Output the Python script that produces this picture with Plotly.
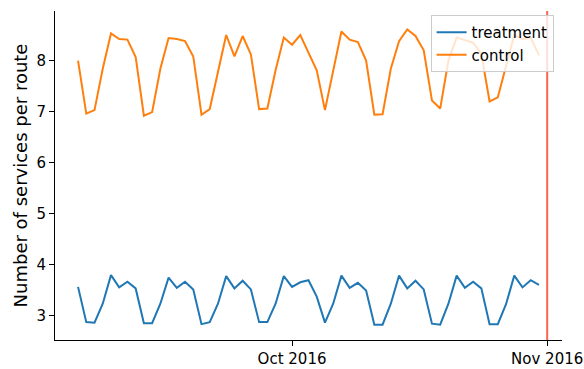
import pandas as pd
import plotly.graph_objects as go

# Daily observation dates
start_date = "2016-09-05"
n_days = 57
dates = pd.date_range(start_date, periods=n_days, freq="D")

# Mean number of services per route
treatment = [3.57, 2.88, 2.87, 3.24, 3.80, 3.56, 3.67, 3.54, 2.86, 2.86,
             3.24, 3.75, 3.55, 3.67, 3.52, 2.84, 2.88, 3.24, 3.78, 3.54,
             3.69, 3.52, 2.88, 2.88, 3.24, 3.78, 3.57, 3.66, 3.70, 3.38,
             2.87, 3.24, 3.79, 3.55, 3.65, 3.50, 2.83, 2.83, 3.24, 3.79,
             3.54, 3.69, 3.52, 2.85, 2.83, 3.24, 3.79, 3.55, 3.67, 3.54,
             2.84, 2.84, 3.23, 3.79, 3.56, 3.70, 3.61]
control = [8.00, 6.96, 7.03, 7.84, 8.53, 8.42, 8.41, 8.07, 6.92, 6.99,
           7.84, 8.44, 8.42, 8.38, 8.08, 6.94, 7.05, 7.81, 8.50, 8.08,
           8.48, 8.12, 7.05, 7.06, 7.81, 8.45, 8.31, 8.50, 8.14, 7.81,
           7.03, 7.81, 8.57, 8.41, 8.36, 8.00, 6.94, 6.95, 7.84, 8.38,
           8.61, 8.48, 8.20, 7.22, 7.06, 8.00, 8.45, 8.40, 8.35, 8.13,
           7.20, 7.28, 7.89, 8.50, 8.42, 8.45, 8.10]

# Intervention date and x tick labels
intervention = "2016-11-01"
tick_dates = ["2016-10-01", "2016-11-01"]
tick_labels = ["Oct 2016", "Nov 2016"]

font = dict(family="DejaVu Sans", size=15, color="#000000")

fig = go.Figure()
fig.add_trace(go.Scatter(x=dates, y=treatment, mode="lines", name="treatment",
                         line=dict(color="#1f77b4", width=2)))
fig.add_trace(go.Scatter(x=dates, y=control, mode="lines", name="control",
                         line=dict(color="#ff7f0e", width=2)))

fig.add_shape(type="line", xref="x", yref="paper",
              x0=intervention, x1=intervention, y0=0, y1=1,
              line=dict(color="#fa6450", width=2), layer="above")

fig.update_layout(
    width=584, height=369,
    margin=dict(l=55, r=22, t=11, b=29),
    paper_bgcolor="white", plot_bgcolor="white",
    font=font,
    showlegend=True,
    legend=dict(x=0.9834, y=0.988, xanchor="right", yanchor="top",
                bgcolor="rgba(255,255,255,0.8)", bordercolor="#cccccc",
                borderwidth=1, tracegroupgap=0,
                font=dict(family="DejaVu Sans", size=15)),
    xaxis=dict(range=["2016-09-02 04:48", "2016-11-02 19:12"],
               tickvals=tick_dates, ticktext=tick_labels, automargin=False,
               showline=True, linecolor="black", linewidth=1,
               ticks="outside", ticklen=5, tickwidth=1, tickcolor="black",
               showgrid=False, zeroline=False, mirror=False),
    yaxis=dict(range=[2.53, 8.97], tickvals=[3, 4, 5, 6, 7, 8],
               automargin=False,
               title=dict(text="Number of services per route", standoff=4),
               showline=True, linecolor="black", linewidth=1,
               ticks="outside", ticklen=5, tickwidth=1, tickcolor="black",
               showgrid=False, zeroline=False, mirror=False),
)

fig.write_html("out.html")
